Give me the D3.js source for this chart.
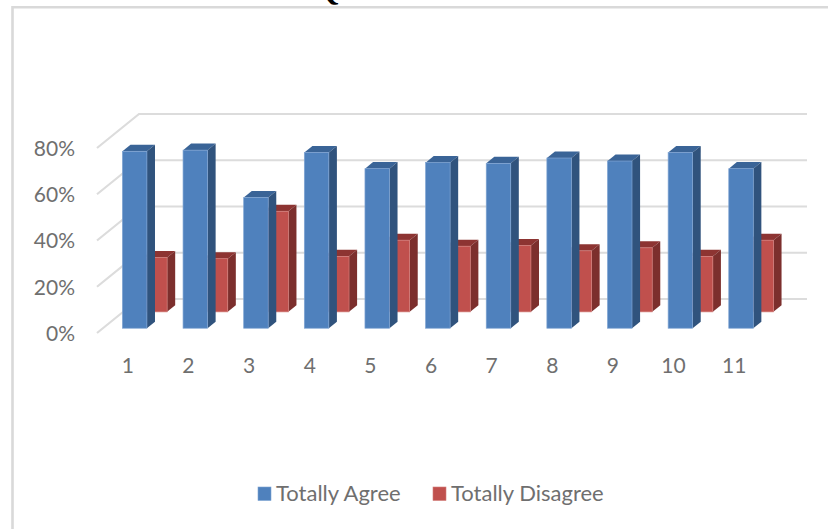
<!DOCTYPE html>
<html>
<head>
<meta charset="utf-8">
<script src="https://cdn.jsdelivr.net/npm/d3@7"></script>
<style>
  html, body { margin: 0; padding: 0; background: #fff; overflow: hidden; }
  svg { display: block; }
  text { font-family: Lato, "Open Sans", sans-serif; fill: #6f6f6f; }
</style>
</head>
<body>
<svg id="chart" width="828" height="529"></svg>
<script>
// Survey results per question, in percent
const categories = ["1", "2", "3", "4", "5", "6", "7", "8", "9", "10", "11"];
const totallyAgree = [76.5, 77, 56.5, 76, 69, 71.6, 71.3, 73.6, 72.3, 76, 69];
const totallyDisagree = [23.5, 23, 43.5, 24, 31, 28.4, 28.7, 26.4, 27.7, 24, 31];
const seriesNames = ["Totally Agree", "Totally Disagree"];
const yTicks = [0, 20, 40, 60, 80];

const faceColors = ["#4f81bd", "#c0504d"];
const sideColors = ["#30537d", "#7c2f2d"];
const topColors = ["#3a6497", "#8d3432"];
const edgeColors = ["#7ea3d2", "#d27c79"];

const svg = d3.select("#chart");

// Front plane of the 3D plot box
const left = 97, right = 764, zeroY = 333, maxY = 148;
const depthX = 42, depthY = 34;

const x = d3.scaleBand().domain(categories).range([left, right])
  .paddingInner(0.596).paddingOuter(0.298).align(0.54);
const xLabel = d3.scalePoint().domain(categories).range([left, right]).padding(0.5);
const y = d3.scaleLinear().domain([0, 80]).range([zeroY, maxY]);

// Each series occupies its own slot along the depth axis
const depth = d3.scaleBand().domain(seriesNames).range([0, depthY])
  .paddingInner(0.6).paddingOuter(0.34).align(0.43);
const toDx = d => d * depthX / depthY;

// Chart frame, open on the right and bottom
svg.append("path")
  .attr("d", "M12.5,529V7.2H828")
  .attr("fill", "none").attr("stroke", "#d9d9d9").attr("stroke-width", 2.6);

// Heading cut off by the upper edge
svg.append("text").attr("x", 316).attr("y", 0)
  .style("font-family", "'Liberation Serif', serif").style("font-weight", "700")
  .style("font-size", "30px").style("fill", "#000").text("Q");

// Gridlines run across the floor side wall and along the back wall
svg.append("g").selectAll("path").data(yTicks).join("path")
  .attr("d", t => d3.line()([
    [left, y(t)], [left + depthX, y(t) - depthY], [right + depthX + 1, y(t) - depthY]
  ]))
  .attr("fill", "none").attr("stroke", "#dcdcdc").attr("stroke-width", 2.2);

// One 3D column: top and side faces first, then the front face
function drawSeries(values, idx) {
  const d0 = depth(seriesNames[idx]);
  const d1 = depth.bandwidth();
  const ox = toDx(d0), sx = toDx(d1);
  const w = x.bandwidth();
  const g = svg.append("g");
  const bars = g.selectAll("g").data(values).join("g")
    .attr("transform", (v, i) => `translate(${x(categories[i]) + ox},${-d0})`);
  bars.append("path").attr("fill", topColors[idx])
    .attr("d", v => d3.line()([
      [0, y(v)], [sx, y(v) - d1], [w + sx, y(v) - d1], [w, y(v)]
    ]) + "Z");
  bars.append("path").attr("fill", sideColors[idx])
    .attr("d", v => d3.line()([
      [w, y(v)], [w + sx, y(v) - d1], [w + sx, y(0) - d1], [w, y(0)]
    ]) + "Z");
  bars.append("rect").attr("x", 0).attr("width", w)
    .attr("y", v => y(v)).attr("height", v => y(0) - y(v))
    .attr("fill", faceColors[idx])
    .attr("stroke", edgeColors[idx]).attr("stroke-width", 0.7);
}
// The rear series goes down first so the front one overlaps it
drawSeries(totallyDisagree, 1);
drawSeries(totallyAgree, 0);

// Value axis
const yAxis = svg.append("g").attr("transform", "translate(75,0)")
  .call(d3.axisLeft(y).tickValues(yTicks).tickSize(0).tickPadding(0).tickFormat(d => d + "%"));
yAxis.select(".domain").remove();
yAxis.selectAll("text").style("font-size", "21px").attr("dy", "0.35em");

// Category axis
const xAxis = svg.append("g").attr("transform", "translate(0,373)")
  .call(d3.axisBottom(xLabel).tickSize(0).tickPadding(0));
xAxis.select(".domain").remove();
xAxis.selectAll("text").style("font-size", "21px").attr("y", 0).attr("dy", 0);

// Legend
const legendX = [258, 433];
const legend = svg.append("g").selectAll("g").data(seriesNames).join("g")
  .attr("transform", (d, i) => `translate(${legendX[i]},487)`);
legend.append("rect").attr("width", 13).attr("height", 13.5)
  .attr("fill", (d, i) => faceColors[i])
  .attr("stroke", (d, i) => edgeColors[i]).attr("stroke-width", 0.6);
legend.append("text").attr("x", 18).attr("y", 13.5)
  .style("font-size", "22px").text(d => d);
</script>
</body>
</html>
